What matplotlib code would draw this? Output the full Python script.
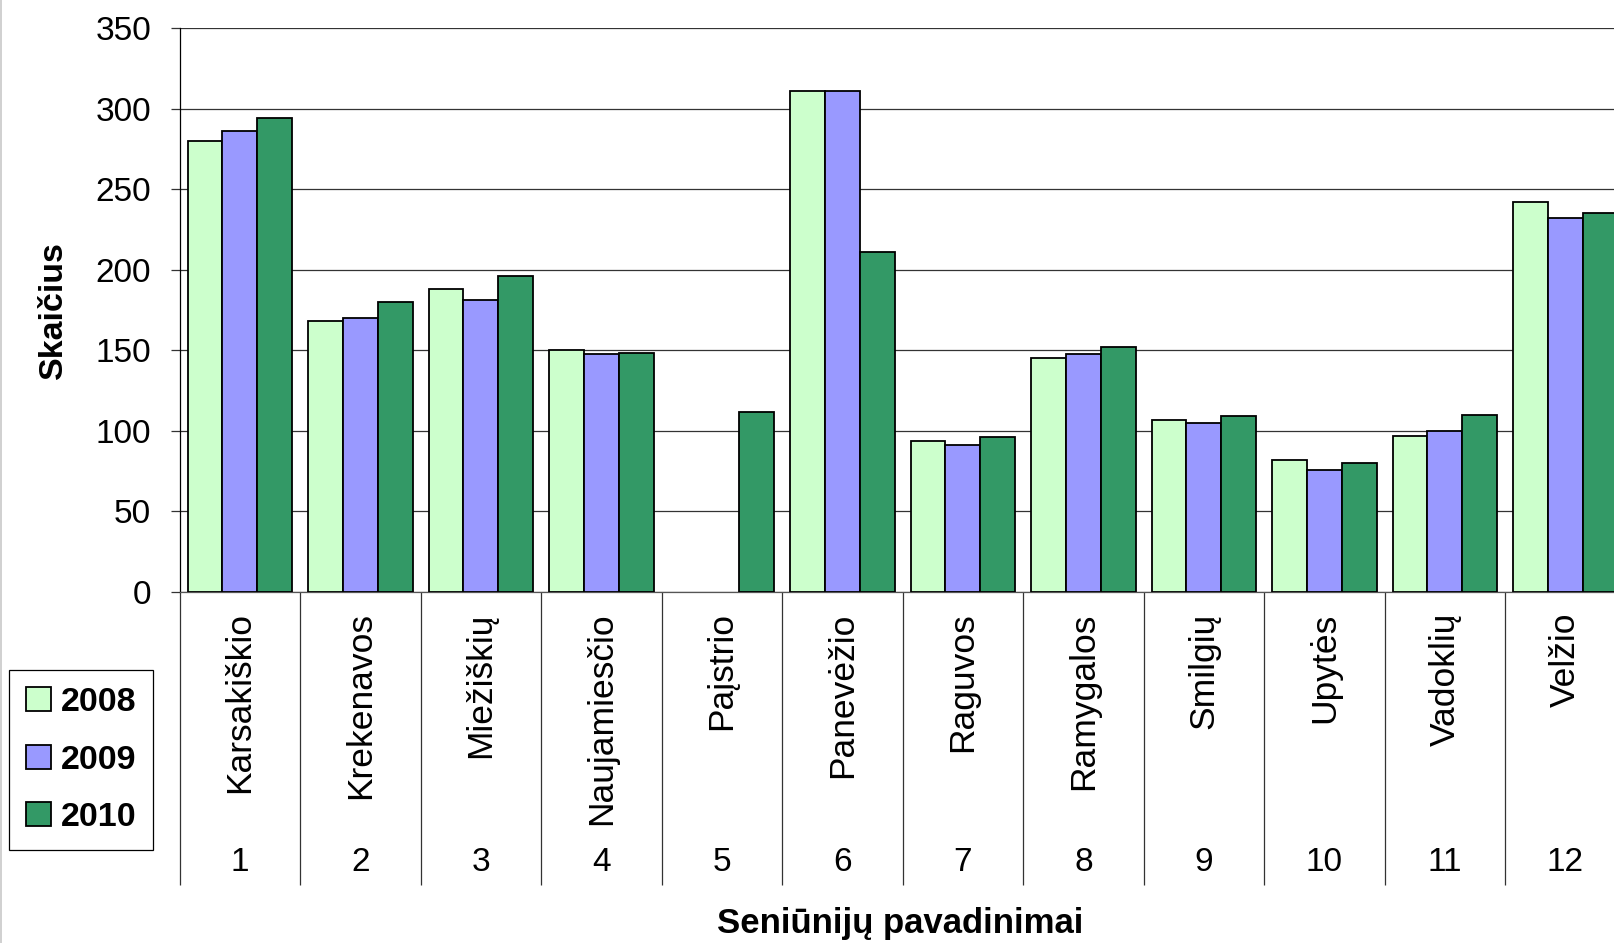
import numpy as np
import matplotlib
matplotlib.use("Agg")
import matplotlib.pyplot as plt
from matplotlib.lines import Line2D
from matplotlib.patches import Patch

plt.rcParams['font.family'] = ['Liberation Sans', 'DejaVu Sans']

# duomenys
seniunijos = ["Karsakiškio", "Krekenavos", "Miežiškių", "Naujamiesčio", "Paįstrio",
              "Panevėžio", "Raguvos", "Ramygalos", "Smilgių", "Upytės", "Vadoklių", "Velžio"]
numeriai = [str(i) for i in range(1, 13)]
metai = ["2008", "2009", "2010"]
v2008 = [280, 168, 188, 150, np.nan, 311, 94, 145, 107, 82, 97, 242]
v2009 = [286, 170, 181, 147.5, np.nan, 311, 91, 148, 105, 76, 100, 232]
v2010 = [294, 180, 196, 148.5, 112, 211, 96, 152, 109, 80, 110, 235]
spalvos = ["#CCFFCC", "#9999FF", "#339966"]

W, H = 1614, 943
fig = plt.figure(figsize=(W / 100, H / 100), dpi=100)
# asis siek tiek isina uz paveikslo desinio krasto
ax = fig.add_axes([179.7 / W, 1 - 592 / H, 1446 / W, 564 / H])

x = np.arange(len(seniunijos)) + 0.5
plotis = 0.29
for k, (vals, sp) in enumerate(zip([v2008, v2009, v2010], spalvos)):
    ax.bar(x + (k - 1) * plotis, vals, width=plotis, color=sp,
           edgecolor="black", linewidth=1.3, zorder=3)

ax.set_xlim(0, len(seniunijos))
ax.set_ylim(0, 350)
ax.set_yticks(range(0, 351, 50))
ax.yaxis.grid(True, color="#333333", linewidth=0.9, zorder=0)
ax.tick_params(axis="y", direction="out", length=6.5, width=0.9,
               labelsize=24, pad=14, color="#333333")

# grupiu skirtukai po asimi
ax.set_xticks([])
ax.set_xticks(np.arange(0, len(seniunijos) + 1), minor=True)
ax.tick_params(axis="x", which="minor", direction="out", length=211,
               width=0.9, color="#333333", labelbottom=False)

for s in ["top", "right"]:
    ax.spines[s].set_visible(False)
ax.spines["left"].set_color("black")
ax.spines["left"].set_linewidth(0.9)
ax.spines["bottom"].set_color("#555555")
ax.spines["bottom"].set_linewidth(0.9)

trans = ax.get_xaxis_transform()
for xi, pav, nr in zip(x, seniunijos, numeriai):
    ax.text(xi, -0.036, pav, transform=trans, rotation=90, ha="center",
            va="top", fontsize=25.5)
    ax.text(xi, -0.48, nr, transform=trans, ha="center", va="center",
            fontsize=24)

fig.text(900 / W, 1 - 923 / H, "Seniūnijų pavadinimai", ha="center",
         va="center", fontsize=25, fontweight="bold")
fig.text(53 / W, 1 - 310 / H, "Skaičius", ha="center", va="center",
         rotation=90, fontsize=24.5, fontweight="bold")

handles = [Patch(facecolor=sp, edgecolor="black", linewidth=1.3) for sp in spalvos]
leg = fig.legend(handles, metai, loc="upper left",
                 bbox_to_anchor=(9 / W, 1 - 670 / H), borderaxespad=0,
                 fancybox=False, framealpha=1, edgecolor="black",
                 prop={"size": 24.5, "weight": "bold"}, handlelength=0.72,
                 handleheight=0.72, handletextpad=0.3, labelspacing=0.78,
                 borderpad=0.5)
leg.get_frame().set_linewidth(0.9)

fig.add_artist(Line2D([0.6 / W, 0.6 / W], [0, 1], color="#c8c8c8", linewidth=1.2))

fig.savefig("out.png", dpi=100)
